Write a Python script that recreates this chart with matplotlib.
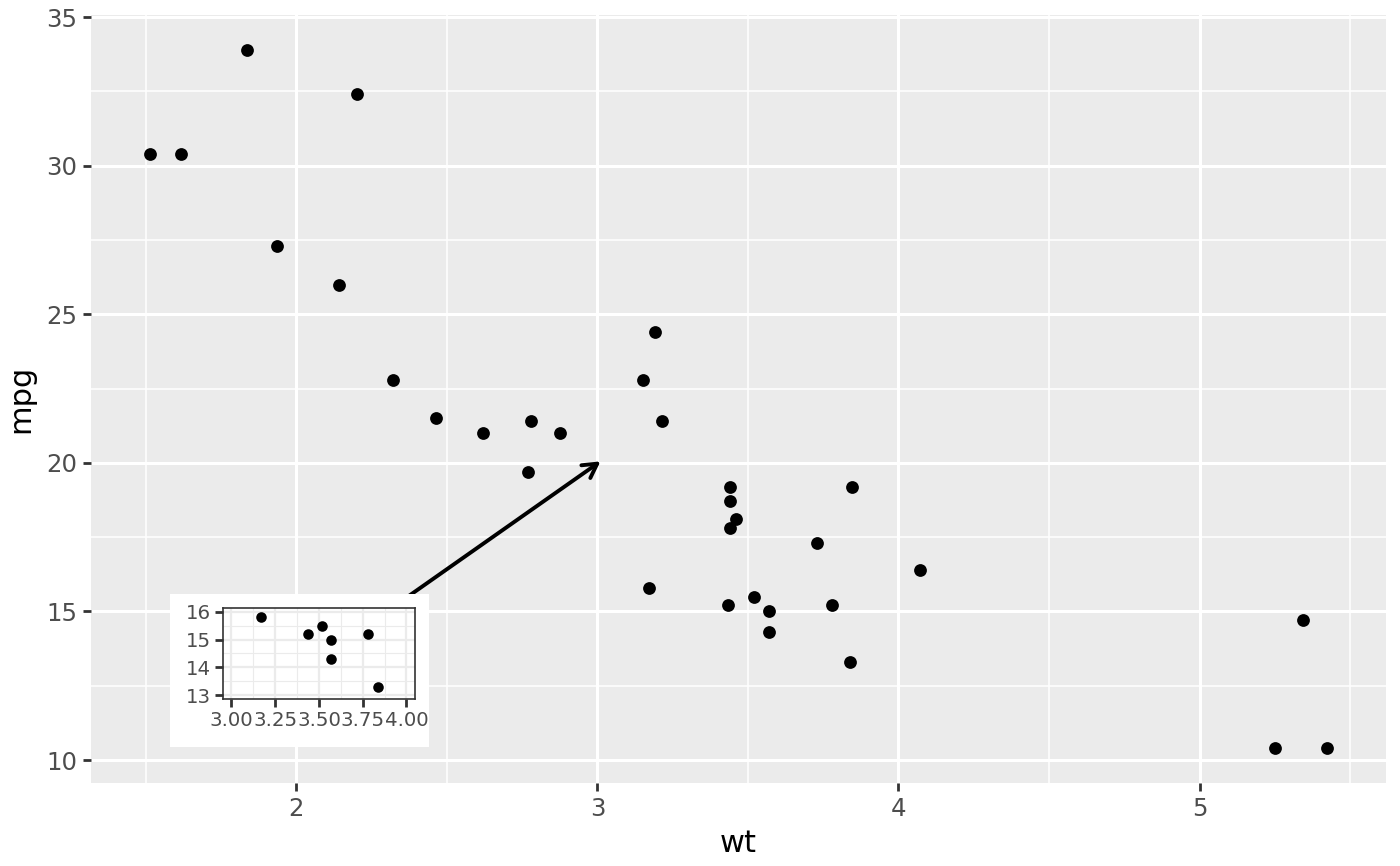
import matplotlib
matplotlib.use("Agg")
import matplotlib.pyplot as plt
from matplotlib.ticker import MultipleLocator

wt = [2.620, 2.875, 2.320, 3.215, 3.440, 3.460, 3.570, 3.190, 3.150, 3.440, 3.440,
      4.070, 3.730, 3.780, 5.250, 5.424, 5.345, 2.200, 1.615, 1.835, 2.465, 3.520,
      3.435, 3.840, 3.845, 1.935, 2.140, 1.513, 3.170, 2.770, 3.570, 2.780]
mpg = [21.0, 21.0, 22.8, 21.4, 18.7, 18.1, 14.3, 24.4, 22.8, 19.2, 17.8,
       16.4, 17.3, 15.2, 10.4, 10.4, 14.7, 32.4, 30.4, 33.9, 21.5, 15.5,
       15.2, 13.3, 19.2, 27.3, 26.0, 30.4, 15.8, 19.7, 15.0, 21.4]
inset_xlim = (3.0, 4.0)
inset_ylim = (13.0, 16.0)
arrow_start = (2.3, 15.0)
arrow_end = (3.01, 20.05)

DPI = 200
fig = plt.figure(figsize=(7.0, 4.33), dpi=DPI)
grey30 = "#4d4d4d"
grey20 = "#333333"

ax = fig.add_axes([0.065, 0.0958, 0.925, 0.887])
ax.set_facecolor("#ebebeb")
for s in ax.spines.values():
    s.set_visible(False)
ax.scatter(wt, mpg, s=4.6**2, color="black", linewidths=0, zorder=3)
xr = max(wt) - min(wt)
yr = max(mpg) - min(mpg)
ax.set_xlim(min(wt) - 0.05 * xr, max(wt) + 0.05 * xr)
ax.set_ylim(min(mpg) - 0.05 * yr, max(mpg) + 0.05 * yr)
ax.xaxis.set_major_locator(MultipleLocator(1))
ax.xaxis.set_minor_locator(MultipleLocator(0.5))
ax.yaxis.set_major_locator(MultipleLocator(5))
ax.yaxis.set_minor_locator(MultipleLocator(2.5))
ax.grid(which="major", color="white", linewidth=1.1)
ax.grid(which="minor", color="white", linewidth=0.55)
ax.set_axisbelow(True)
ax.tick_params(which="major", length=2.75, width=1.0, color=grey20,
               labelsize=8.8, labelcolor=grey30, pad=2.2)
ax.tick_params(which="minor", length=0)
ax.set_xlabel("wt", fontsize=11, labelpad=3)
ax.set_ylabel("mpg", fontsize=11, labelpad=4)
ax.annotate("", xy=arrow_end, xytext=arrow_start,
            arrowprops=dict(arrowstyle="->,head_length=0.5,head_width=0.28",
                            color="black", lw=1.4, shrinkA=0, shrinkB=0),
            zorder=2)

# white background box for the inset
bg = fig.add_axes([0.1214, 0.1378, 0.1848, 0.1763])
bg.set_facecolor("white")
bg.set_xticks([])
bg.set_yticks([])
for s in bg.spines.values():
    s.set_visible(False)

ins = fig.add_axes([0.159, 0.1925, 0.1376, 0.1058])
ins.set_facecolor("white")
sx = [x for x, y in zip(wt, mpg) if inset_xlim[0] <= x <= inset_xlim[1] and inset_ylim[0] <= y <= inset_ylim[1]]
sy = [y for x, y in zip(wt, mpg) if inset_xlim[0] <= x <= inset_xlim[1] and inset_ylim[0] <= y <= inset_ylim[1]]
ins.scatter(sx, sy, s=3.8**2, color="black", linewidths=0, zorder=3)
ixr = inset_xlim[1] - inset_xlim[0]
iyr = inset_ylim[1] - inset_ylim[0]
ins.set_xlim(inset_xlim[0] - 0.05 * ixr, inset_xlim[1] + 0.05 * ixr)
ins.set_ylim(inset_ylim[0] - 0.05 * iyr, inset_ylim[1] + 0.05 * iyr)
ins.set_xticks([3.0, 3.25, 3.5, 3.75, 4.0])
ins.set_xticklabels(["3.00", "3.25", "3.50", "3.75", "4.00"])
ins.xaxis.set_minor_locator(MultipleLocator(0.125))
ins.yaxis.set_major_locator(MultipleLocator(1))
ins.yaxis.set_minor_locator(MultipleLocator(0.5))
ins.grid(which="major", color="#ebebeb", linewidth=0.8)
ins.grid(which="minor", color="#ebebeb", linewidth=0.4)
ins.set_axisbelow(True)
for s in ins.spines.values():
    s.set_color(grey20)
    s.set_linewidth(0.6)
ins.tick_params(which="major", length=2.75, width=1.0, color=grey20,
                labelsize=7.1, labelcolor=grey30, pad=1.5)
ins.tick_params(which="minor", length=0)

fig.savefig("out.png", dpi=DPI, facecolor="white")
